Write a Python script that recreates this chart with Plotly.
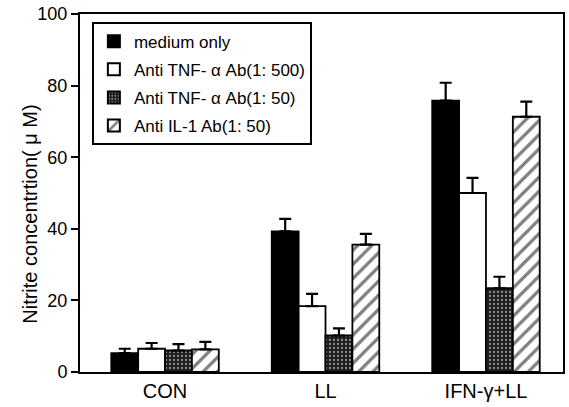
import plotly.graph_objects as go

categories = ["CON", "LL", "IFN-γ+LL"]
series_names = ["medium only", "Anti TNF- α Ab(1: 500)", "Anti TNF- α Ab(1: 50)", "Anti IL-1 Ab(1: 50)"]
medium_only = [5.3, 39.3, 75.8]
medium_only_err = [1.2, 3.5, 5.0]
anti_tnf_500 = [6.5, 18.4, 50.0]
anti_tnf_500_err = [1.6, 3.4, 4.2]
anti_tnf_50 = [6.0, 10.2, 23.4]
anti_tnf_50_err = [1.8, 2.0, 3.2]
anti_il1_50 = [6.3, 35.6, 71.3]
anti_il1_50_err = [2.1, 3.0, 4.2]
y_ticks = [0, 20, 40, 60, 80, 100]
y_title = "Nitrite concentrtion( μ M)"

values = [medium_only, anti_tnf_500, anti_tnf_50, anti_il1_50]
errors = [medium_only_err, anti_tnf_500_err, anti_tnf_50_err, anti_il1_50_err]

styles = [
    dict(color="black"),
    dict(color="white"),
    dict(color="#1e1e1e", pattern=dict(shape=".", fgcolor="white", bgcolor="#1e1e1e", size=4, solidity=0.25)),
    dict(color="white", pattern=dict(shape="/", fgcolor="black", bgcolor="white", size=10, solidity=0.32)),
]

fig = go.Figure()
for i, (name, v, e, st) in enumerate(zip(series_names, values, errors, styles)):
    marker = dict(line=dict(color="black", width=1.8), **st)
    fig.add_trace(go.Bar(
        x=categories, y=v, name=name, marker=marker, legendgroup=f"g{i}",
        error_y=dict(type="data", array=e, arrayminus=[0] * len(e), symmetric=False,
                     color="black", thickness=2.2, width=6),
    ))

fig.update_layout(
    width=569, height=407,
    margin=dict(l=80, r=4, t=14, b=35),
    paper_bgcolor="white", plot_bgcolor="white",
    barmode="group", bargap=0.33, bargroupgap=0,
    font=dict(family="Liberation Sans, Arial, sans-serif", color="black", size=17),
    showlegend=True,
    legend=dict(x=0.025, y=0.978, xanchor="left", yanchor="top",
                bordercolor="black", borderwidth=1.8, bgcolor="white",
                font=dict(size=17), tracegroupgap=3, itemsizing="constant"),
    xaxis=dict(range=[-0.53, 2.48], showline=True, linecolor="black", linewidth=2,
               mirror=True, ticks="", tickfont=dict(size=20), showgrid=False, zeroline=False),
    yaxis=dict(range=[0, 100], tickvals=y_ticks, showline=True, linecolor="black", linewidth=2,
               mirror=True, ticks="outside", ticklen=7, tickwidth=2, tickcolor="black",
               tickfont=dict(size=18), showgrid=False, zeroline=False),
    annotations=[dict(text=y_title, xref="paper", yref="paper", x=-0.103, y=0.44,
                      xanchor="center", yanchor="middle", textangle=-90, showarrow=False,
                      font=dict(size=20))],
)

fig.write_html("out.html")
